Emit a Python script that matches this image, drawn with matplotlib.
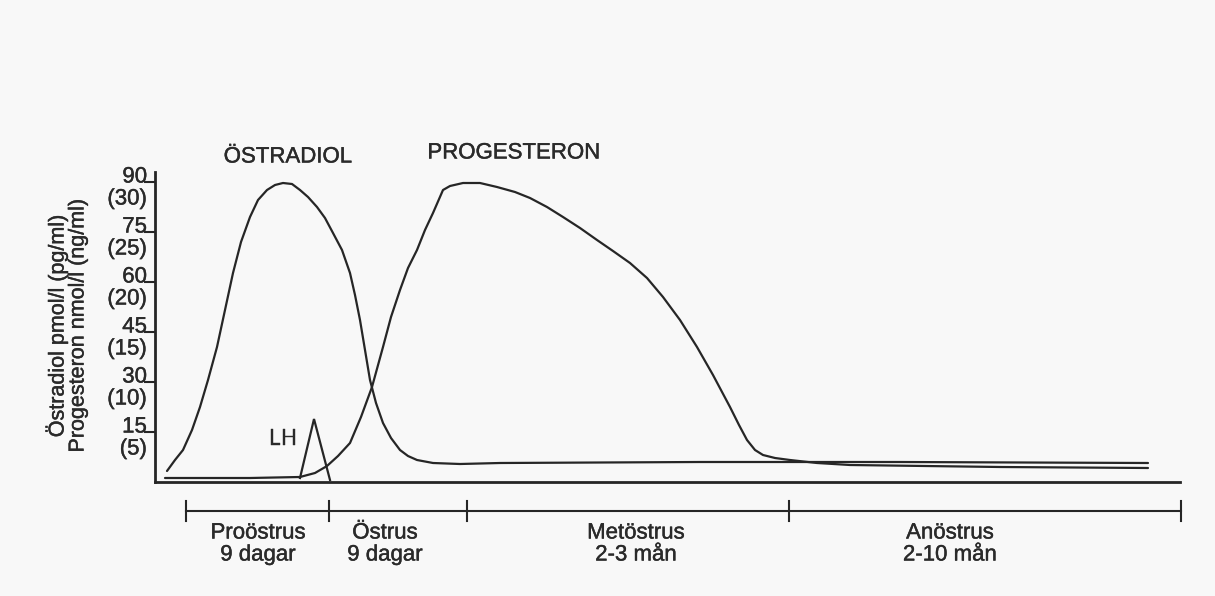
import matplotlib
matplotlib.use("Agg")
import matplotlib.pyplot as plt
import matplotlib.patheffects as pe

# ---------------- data ----------------
# time axis in arbitrary units (0 .. 102.5), hormone level in pmol/l scale (0..90)
estradiol_x = [1.2, 2.0, 2.8, 3.7, 4.5, 5.3, 6.2, 7.0, 7.8, 8.6, 9.5, 10.3, 11.2, 12.0, 12.8,
               13.7, 14.5, 15.3, 16.2, 17.0, 17.8, 18.7, 19.5, 20.0, 20.5, 21.0, 21.5, 22.1,
               22.8, 23.6, 24.5, 25.3, 26.2, 27.8, 30.5, 34.5, 54.5, 74.5, 99.3]
estradiol_y = [3.3, 6.6, 9.6, 15.6, 22.5, 30.6, 40.5, 51.6, 62.7, 72.0, 79.5, 84.6, 87.6, 89.1, 89.7,
               89.4, 87.6, 85.5, 82.5, 79.2, 74.7, 69.6, 62.7, 56.1, 48.6, 39.6, 30.6, 23.7,
               17.7, 13.2, 9.6, 7.8, 6.6, 5.7, 5.4, 5.7, 6.0, 6.0, 5.7]

progesteron_x = [1.0, 9.5, 14.5, 16.0, 17.2, 18.3, 19.5, 20.6, 21.7, 22.8, 23.6, 24.5, 25.3, 26.2,
                 27.0, 27.8, 28.8, 29.5, 30.8, 32.5, 34.2, 36.0, 37.5, 39.2, 40.8, 42.5, 44.2,
                 45.8, 47.5, 49.2, 50.8, 52.5, 54.2, 55.8, 57.5, 58.4, 59.2, 60.0, 60.8, 62.0,
                 63.5, 66.2, 69.5, 84.5, 99.3]
progesteron_y = [1.2, 1.2, 1.5, 2.7, 4.8, 7.8, 11.7, 19.5, 28.5, 40.5, 49.5, 57.6, 64.2, 69.6,
                 75.6, 80.7, 87.6, 88.8, 89.7, 89.7, 88.5, 87.0, 85.2, 82.5, 79.5, 76.2, 72.6,
                 69.3, 65.7, 61.2, 55.5, 48.6, 40.5, 32.1, 22.5, 17.1, 12.6, 9.6, 8.1, 7.2,
                 6.6, 5.7, 5.1, 4.5, 4.2]

lh_x = [14.5, 15.9, 17.5]
lh_y = [1.2, 18.9, 0.6]

ytick_values = [15, 30, 45, 60, 75, 90]
ytick_main = ["15", "30", "45", "60", "75", "90"]
ytick_sub = ["(5)", "(10)", "(15)", "(20)", "(25)", "(30)"]

phase_bounds = [3.1, 17.4, 31.2, 63.4, 102.6]
phase_names = ["Proöstrus", "Östrus", "Metöstrus", "Anöstrus"]
phase_durations = ["9 dagar", "9 dagar", "2-3 mån", "2-10 mån"]
phase_centers = [10.3, 23.0, 48.1, 79.5]

# ---------------- style ----------------
plt.rcParams['font.family'] = ['Liberation Sans', 'DejaVu Sans']
INK = '#262626'
TXT = '#2a2a2a'
FS = 16
BG = '#f8f8f8'
EFF = [pe.withStroke(linewidth=0.3, foreground=TXT)]

fig = plt.figure(figsize=(12.15, 5.96), dpi=100, facecolor=BG)
ax = fig.add_axes([155/1215, 114/596, (1180-155)/1215, (482-172)/596])
ax.set_facecolor(BG)
ax.set_xlim(0, 102.5)
ax.set_ylim(0, 93)

ax.plot(estradiol_x, estradiol_y, color=INK, lw=1.6, solid_capstyle='round', solid_joinstyle='round')
ax.plot(progesteron_x, progesteron_y, color=INK, lw=1.6, solid_capstyle='round', solid_joinstyle='round')
ax.plot(lh_x, lh_y, color=INK, lw=1.6, solid_joinstyle='miter')

for s in ['top', 'right']:
    ax.spines[s].set_visible(False)
for s in ['left', 'bottom']:
    ax.spines[s].set_linewidth(2.0)
    ax.spines[s].set_color(INK)

ax.set_xticks([])
ax.set_yticks(ytick_values)
ax.set_yticklabels([])
ax.tick_params(axis='y', direction='out', length=8, width=1.5, color=INK)

def txt(*args, **kw):
    t = ax.text(*args, **kw)
    t.set_path_effects(EFF)
    return t

for v, m, s in zip(ytick_values, ytick_main, ytick_sub):
    for label, dy in ((m, 5), (s, -17)):
        a = ax.annotate(label, xy=(0, v), xycoords=('axes fraction', 'data'), xytext=(-8, dy),
                        textcoords='offset pixels', ha='right', va='center', fontsize=FS, color=TXT)
        a.set_path_effects(EFF)

# y-axis label (two lines)
for xp, lab in ((57, "Östradiol pmol/l (pg/ml)"), (78, "Progesteron nmol/l (ng/ml)")):
    t = fig.text(xp/1215, 1 - 326/596, lab, rotation=90, ha='center', va='center',
                 fontsize=15.5, color=TXT)
    t.set_path_effects(EFF)

# curve labels
txt(13.3, 97.5, "ÖSTRADIOL", ha='center', va='center', fontsize=FS, color=TXT, clip_on=False)
txt(35.9, 98.7, "PROGESTERON", ha='center', va='center', fontsize=FS, color=TXT, clip_on=False)
txt(12.8, 12.9, "LH", ha='center', va='center', fontsize=FS, color=TXT)

# phase bar below the axis
bar_y = -8.7
ax.plot([phase_bounds[0], phase_bounds[-1]], [bar_y, bar_y], color=INK, lw=1.5, clip_on=False)
for b in phase_bounds:
    ax.plot([b, b], [bar_y - 3.1, bar_y + 3.1], color=INK, lw=1.5, clip_on=False)
for c, n, d in zip(phase_centers, phase_names, phase_durations):
    txt(c, -15.3, n, ha='center', va='center', fontsize=FS, color=TXT, clip_on=False)
    txt(c, -21.9, d, ha='center', va='center', fontsize=FS, color=TXT, clip_on=False)

fig.savefig("out.png", dpi=100, facecolor=BG)
